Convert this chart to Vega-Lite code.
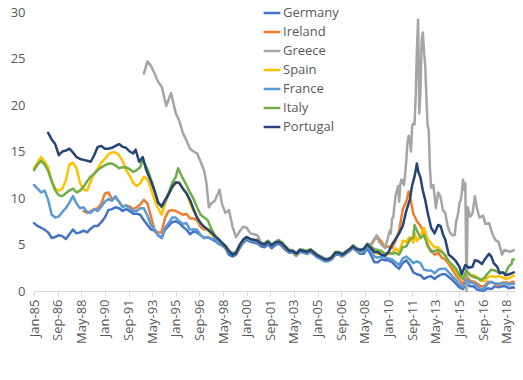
{
"$schema":"https://vega.github.io/schema/vega-lite/v6.json",
"width":481,"height":279,
"autosize":{"type":"none"},
"padding":{"left":34,"top":12,"right":8,"bottom":89},
"background":"white",
"config":{"view":{"stroke":null},"font":"Open Sans"},
"data":{"values":[
{"c":"Germany","d":"1985-01","v":7.3},{"c":"Germany","d":"1985-04","v":7.0},{"c":"Germany","d":"1985-07","v":6.8},{"c":"Germany","d":"1985-10","v":6.6},
{"c":"Germany","d":"1986-01","v":6.3},{"c":"Germany","d":"1986-04","v":5.7},{"c":"Germany","d":"1986-07","v":5.8},{"c":"Germany","d":"1986-10","v":6.0},
{"c":"Germany","d":"1987-01","v":5.9},{"c":"Germany","d":"1987-04","v":5.6},{"c":"Germany","d":"1987-07","v":6.1},{"c":"Germany","d":"1987-10","v":6.6},
{"c":"Germany","d":"1988-01","v":6.2},{"c":"Germany","d":"1988-04","v":6.3},{"c":"Germany","d":"1988-07","v":6.5},{"c":"Germany","d":"1988-10","v":6.3},
{"c":"Germany","d":"1989-01","v":6.7},{"c":"Germany","d":"1989-04","v":7.0},{"c":"Germany","d":"1989-07","v":7.0},{"c":"Germany","d":"1989-10","v":7.4},
{"c":"Germany","d":"1990-01","v":7.9},{"c":"Germany","d":"1990-04","v":8.7},{"c":"Germany","d":"1990-07","v":8.8},{"c":"Germany","d":"1990-10","v":9.0},
{"c":"Germany","d":"1991-01","v":8.9},{"c":"Germany","d":"1991-04","v":8.6},{"c":"Germany","d":"1991-07","v":8.8},{"c":"Germany","d":"1991-10","v":8.6},
{"c":"Germany","d":"1992-01","v":8.3},{"c":"Germany","d":"1992-04","v":8.3},{"c":"Germany","d":"1992-07","v":8.2},{"c":"Germany","d":"1992-10","v":7.6},
{"c":"Germany","d":"1993-01","v":7.1},{"c":"Germany","d":"1993-04","v":6.6},{"c":"Germany","d":"1993-07","v":6.5},{"c":"Germany","d":"1993-10","v":6.0},
{"c":"Germany","d":"1994-01","v":5.7},{"c":"Germany","d":"1994-04","v":6.6},{"c":"Germany","d":"1994-07","v":7.0},{"c":"Germany","d":"1994-10","v":7.4},
{"c":"Germany","d":"1995-01","v":7.5},{"c":"Germany","d":"1995-04","v":7.3},{"c":"Germany","d":"1995-07","v":6.9},{"c":"Germany","d":"1995-10","v":6.6},
{"c":"Germany","d":"1996-01","v":6.1},{"c":"Germany","d":"1996-04","v":6.4},{"c":"Germany","d":"1996-07","v":6.3},{"c":"Germany","d":"1996-10","v":6.0},
{"c":"Germany","d":"1997-01","v":5.7},{"c":"Germany","d":"1997-04","v":5.8},{"c":"Germany","d":"1997-07","v":5.6},{"c":"Germany","d":"1997-10","v":5.4},
{"c":"Germany","d":"1998-01","v":5.1},{"c":"Germany","d":"1998-04","v":4.9},{"c":"Germany","d":"1998-07","v":4.6},{"c":"Germany","d":"1998-10","v":3.9},
{"c":"Germany","d":"1999-01","v":3.7},{"c":"Germany","d":"1999-04","v":3.9},{"c":"Germany","d":"1999-07","v":4.6},{"c":"Germany","d":"1999-10","v":5.2},
{"c":"Germany","d":"2000-01","v":5.5},{"c":"Germany","d":"2000-04","v":5.3},{"c":"Germany","d":"2000-07","v":5.2},{"c":"Germany","d":"2000-10","v":5.1},
{"c":"Germany","d":"2001-01","v":4.8},{"c":"Germany","d":"2001-04","v":4.7},{"c":"Germany","d":"2001-07","v":5.0},{"c":"Germany","d":"2001-10","v":4.6},
{"c":"Germany","d":"2002-01","v":4.9},{"c":"Germany","d":"2002-04","v":5.1},{"c":"Germany","d":"2002-07","v":4.8},{"c":"Germany","d":"2002-10","v":4.4},
{"c":"Germany","d":"2003-01","v":4.1},{"c":"Germany","d":"2003-04","v":4.1},{"c":"Germany","d":"2003-07","v":3.8},{"c":"Germany","d":"2003-10","v":4.2},
{"c":"Germany","d":"2004-01","v":4.1},{"c":"Germany","d":"2004-04","v":4.0},{"c":"Germany","d":"2004-07","v":4.2},{"c":"Germany","d":"2004-10","v":3.9},
{"c":"Germany","d":"2005-01","v":3.6},{"c":"Germany","d":"2005-04","v":3.4},{"c":"Germany","d":"2005-07","v":3.2},{"c":"Germany","d":"2005-10","v":3.2},
{"c":"Germany","d":"2006-01","v":3.4},{"c":"Germany","d":"2006-04","v":3.9},{"c":"Germany","d":"2006-07","v":3.9},{"c":"Germany","d":"2006-10","v":3.7},
{"c":"Germany","d":"2007-01","v":4.0},{"c":"Germany","d":"2007-04","v":4.3},{"c":"Germany","d":"2007-07","v":4.6},{"c":"Germany","d":"2007-10","v":4.3},
{"c":"Germany","d":"2008-01","v":4.0},{"c":"Germany","d":"2008-04","v":4.0},{"c":"Germany","d":"2008-07","v":4.6},{"c":"Germany","d":"2008-10","v":3.9},
{"c":"Germany","d":"2009-01","v":3.1},{"c":"Germany","d":"2009-04","v":3.1},{"c":"Germany","d":"2009-07","v":3.4},{"c":"Germany","d":"2009-10","v":3.3},
{"c":"Germany","d":"2010-01","v":3.3},{"c":"Germany","d":"2010-04","v":3.1},{"c":"Germany","d":"2010-07","v":2.7},{"c":"Germany","d":"2010-10","v":2.4},
{"c":"Germany","d":"2011-01","v":3.0},{"c":"Germany","d":"2011-04","v":3.3},{"c":"Germany","d":"2011-07","v":2.8},{"c":"Germany","d":"2011-10","v":2.0},
{"c":"Germany","d":"2012-01","v":1.8},{"c":"Germany","d":"2012-04","v":1.7},{"c":"Germany","d":"2012-07","v":1.3},{"c":"Germany","d":"2012-10","v":1.5},
{"c":"Germany","d":"2013-01","v":1.6},{"c":"Germany","d":"2013-04","v":1.3},{"c":"Germany","d":"2013-07","v":1.6},{"c":"Germany","d":"2013-10","v":1.8},
{"c":"Germany","d":"2014-01","v":1.8},{"c":"Germany","d":"2014-04","v":1.5},{"c":"Germany","d":"2014-07","v":1.2},{"c":"Germany","d":"2014-10","v":0.8},
{"c":"Germany","d":"2015-01","v":0.4},{"c":"Germany","d":"2015-04","v":0.2},{"c":"Germany","d":"2015-07","v":0.8},{"c":"Germany","d":"2015-10","v":0.5},
{"c":"Germany","d":"2016-01","v":0.5},{"c":"Germany","d":"2016-04","v":0.15},{"c":"Germany","d":"2016-07","v":0.05},{"c":"Germany","d":"2016-10","v":0.05},
{"c":"Germany","d":"2017-01","v":0.3},{"c":"Germany","d":"2017-04","v":0.2},{"c":"Germany","d":"2017-07","v":0.5},{"c":"Germany","d":"2017-10","v":0.4},
{"c":"Germany","d":"2018-01","v":0.5},{"c":"Germany","d":"2018-04","v":0.5},{"c":"Germany","d":"2018-07","v":0.3},{"c":"Germany","d":"2018-10","v":0.4},{"c":"Germany","d":"2018-11","v":0.35},

{"c":"Ireland","d":"1988-07","v":8.6},{"c":"Ireland","d":"1988-10","v":8.4},
{"c":"Ireland","d":"1989-01","v":8.6},{"c":"Ireland","d":"1989-04","v":8.8},{"c":"Ireland","d":"1989-07","v":8.9},{"c":"Ireland","d":"1989-10","v":9.4},
{"c":"Ireland","d":"1990-01","v":10.5},{"c":"Ireland","d":"1990-04","v":10.6},{"c":"Ireland","d":"1990-07","v":9.9},{"c":"Ireland","d":"1990-10","v":10.0},
{"c":"Ireland","d":"1991-01","v":9.6},{"c":"Ireland","d":"1991-04","v":9.1},{"c":"Ireland","d":"1991-07","v":9.2},{"c":"Ireland","d":"1991-10","v":9.1},
{"c":"Ireland","d":"1992-01","v":8.8},{"c":"Ireland","d":"1992-04","v":9.0},{"c":"Ireland","d":"1992-07","v":9.3},{"c":"Ireland","d":"1992-10","v":9.8},
{"c":"Ireland","d":"1993-01","v":9.4},{"c":"Ireland","d":"1993-04","v":8.0},{"c":"Ireland","d":"1993-07","v":6.6},{"c":"Ireland","d":"1993-10","v":6.3},
{"c":"Ireland","d":"1994-01","v":6.3},{"c":"Ireland","d":"1994-04","v":7.9},{"c":"Ireland","d":"1994-07","v":8.6},{"c":"Ireland","d":"1994-10","v":8.7},
{"c":"Ireland","d":"1995-01","v":8.6},{"c":"Ireland","d":"1995-04","v":8.4},{"c":"Ireland","d":"1995-07","v":8.2},{"c":"Ireland","d":"1995-10","v":8.3},
{"c":"Ireland","d":"1996-01","v":7.8},{"c":"Ireland","d":"1996-04","v":7.8},{"c":"Ireland","d":"1996-07","v":7.6},{"c":"Ireland","d":"1996-10","v":6.9},
{"c":"Ireland","d":"1997-01","v":6.6},{"c":"Ireland","d":"1997-04","v":6.7},{"c":"Ireland","d":"1997-07","v":6.3},{"c":"Ireland","d":"1997-10","v":6.0},
{"c":"Ireland","d":"1998-01","v":5.4},{"c":"Ireland","d":"1998-04","v":5.1},{"c":"Ireland","d":"1998-07","v":4.9},{"c":"Ireland","d":"1998-10","v":4.3},
{"c":"Ireland","d":"1999-01","v":4.0},{"c":"Ireland","d":"1999-04","v":4.2},{"c":"Ireland","d":"1999-07","v":5.0},{"c":"Ireland","d":"1999-10","v":5.5},
{"c":"Ireland","d":"2000-01","v":5.8},{"c":"Ireland","d":"2000-04","v":5.5},{"c":"Ireland","d":"2000-07","v":5.5},{"c":"Ireland","d":"2000-10","v":5.4},
{"c":"Ireland","d":"2001-01","v":5.1},{"c":"Ireland","d":"2001-04","v":5.0},{"c":"Ireland","d":"2001-07","v":5.3},{"c":"Ireland","d":"2001-10","v":4.9},
{"c":"Ireland","d":"2002-01","v":5.1},{"c":"Ireland","d":"2002-04","v":5.3},{"c":"Ireland","d":"2002-07","v":5.1},{"c":"Ireland","d":"2002-10","v":4.6},
{"c":"Ireland","d":"2003-01","v":4.3},{"c":"Ireland","d":"2003-04","v":4.2},{"c":"Ireland","d":"2003-07","v":4.1},{"c":"Ireland","d":"2003-10","v":4.3},
{"c":"Ireland","d":"2004-01","v":4.2},{"c":"Ireland","d":"2004-04","v":4.1},{"c":"Ireland","d":"2004-07","v":4.3},{"c":"Ireland","d":"2004-10","v":4.0},
{"c":"Ireland","d":"2005-01","v":3.7},{"c":"Ireland","d":"2005-04","v":3.5},{"c":"Ireland","d":"2005-07","v":3.3},{"c":"Ireland","d":"2005-10","v":3.3},
{"c":"Ireland","d":"2006-01","v":3.5},{"c":"Ireland","d":"2006-04","v":4.0},{"c":"Ireland","d":"2006-07","v":4.0},{"c":"Ireland","d":"2006-10","v":3.8},
{"c":"Ireland","d":"2007-01","v":4.1},{"c":"Ireland","d":"2007-04","v":4.3},{"c":"Ireland","d":"2007-07","v":4.7},{"c":"Ireland","d":"2007-10","v":4.4},
{"c":"Ireland","d":"2008-01","v":4.3},{"c":"Ireland","d":"2008-04","v":4.5},{"c":"Ireland","d":"2008-07","v":5.0},{"c":"Ireland","d":"2008-10","v":4.9},
{"c":"Ireland","d":"2009-01","v":5.5},{"c":"Ireland","d":"2009-04","v":5.8},{"c":"Ireland","d":"2009-07","v":5.3},{"c":"Ireland","d":"2009-10","v":4.7},
{"c":"Ireland","d":"2010-01","v":4.8},{"c":"Ireland","d":"2010-04","v":4.6},{"c":"Ireland","d":"2010-07","v":5.4},{"c":"Ireland","d":"2010-10","v":6.5},
{"c":"Ireland","d":"2011-01","v":8.8},{"c":"Ireland","d":"2011-04","v":9.6},{"c":"Ireland","d":"2011-06","v":10.7},{"c":"Ireland","d":"2011-07","v":10.3},{"c":"Ireland","d":"2011-10","v":8.3},
{"c":"Ireland","d":"2012-01","v":7.5},{"c":"Ireland","d":"2012-04","v":7.0},{"c":"Ireland","d":"2012-07","v":6.3},{"c":"Ireland","d":"2012-10","v":4.8},
{"c":"Ireland","d":"2013-01","v":4.4},{"c":"Ireland","d":"2013-04","v":3.9},{"c":"Ireland","d":"2013-07","v":4.1},{"c":"Ireland","d":"2013-10","v":3.6},
{"c":"Ireland","d":"2014-01","v":3.4},{"c":"Ireland","d":"2014-04","v":2.9},{"c":"Ireland","d":"2014-07","v":2.3},{"c":"Ireland","d":"2014-10","v":1.7},
{"c":"Ireland","d":"2015-01","v":1.2},{"c":"Ireland","d":"2015-04","v":0.7},{"c":"Ireland","d":"2015-07","v":1.6},{"c":"Ireland","d":"2015-10","v":1.1},
{"c":"Ireland","d":"2016-01","v":1.0},{"c":"Ireland","d":"2016-04","v":0.8},{"c":"Ireland","d":"2016-07","v":0.5},{"c":"Ireland","d":"2016-10","v":0.5},
{"c":"Ireland","d":"2017-01","v":1.0},{"c":"Ireland","d":"2017-04","v":0.9},{"c":"Ireland","d":"2017-07","v":0.8},{"c":"Ireland","d":"2017-10","v":0.6},
{"c":"Ireland","d":"2018-01","v":0.9},{"c":"Ireland","d":"2018-04","v":0.95},{"c":"Ireland","d":"2018-07","v":0.85},{"c":"Ireland","d":"2018-10","v":1.0},{"c":"Ireland","d":"2018-11","v":0.95},

{"c":"Greece","d":"1992-10","v":23.4},
{"c":"Greece","d":"1993-01","v":24.7},{"c":"Greece","d":"1993-04","v":24.2},{"c":"Greece","d":"1993-07","v":23.4},{"c":"Greece","d":"1993-10","v":22.5},
{"c":"Greece","d":"1994-01","v":22.0},{"c":"Greece","d":"1994-05","v":19.9},{"c":"Greece","d":"1994-09","v":21.3},
{"c":"Greece","d":"1995-01","v":19.1},{"c":"Greece","d":"1995-04","v":18.3},{"c":"Greece","d":"1995-07","v":17.0},{"c":"Greece","d":"1995-10","v":16.2},
{"c":"Greece","d":"1996-01","v":15.3},{"c":"Greece","d":"1996-04","v":15.0},{"c":"Greece","d":"1996-07","v":14.8},{"c":"Greece","d":"1996-10","v":13.9},
{"c":"Greece","d":"1997-01","v":12.9},{"c":"Greece","d":"1997-03","v":11.6},{"c":"Greece","d":"1997-05","v":9.0},{"c":"Greece","d":"1997-07","v":9.4},{"c":"Greece","d":"1997-10","v":9.7},
{"c":"Greece","d":"1998-02","v":10.9},{"c":"Greece","d":"1998-04","v":9.4},{"c":"Greece","d":"1998-07","v":8.4},{"c":"Greece","d":"1998-10","v":8.7},
{"c":"Greece","d":"1999-01","v":6.9},{"c":"Greece","d":"1999-04","v":5.8},{"c":"Greece","d":"1999-07","v":6.4},{"c":"Greece","d":"1999-10","v":6.9},
{"c":"Greece","d":"2000-01","v":6.8},{"c":"Greece","d":"2000-04","v":6.2},{"c":"Greece","d":"2000-07","v":6.1},{"c":"Greece","d":"2000-10","v":6.0},
{"c":"Greece","d":"2001-01","v":5.2},{"c":"Greece","d":"2001-04","v":5.1},{"c":"Greece","d":"2001-07","v":5.4},{"c":"Greece","d":"2001-10","v":5.0},
{"c":"Greece","d":"2002-01","v":5.3},{"c":"Greece","d":"2002-04","v":5.5},{"c":"Greece","d":"2002-07","v":5.2},{"c":"Greece","d":"2002-10","v":4.7},
{"c":"Greece","d":"2003-01","v":4.4},{"c":"Greece","d":"2003-04","v":4.4},{"c":"Greece","d":"2003-07","v":4.1},{"c":"Greece","d":"2003-10","v":4.5},
{"c":"Greece","d":"2004-01","v":4.4},{"c":"Greece","d":"2004-04","v":4.3},{"c":"Greece","d":"2004-07","v":4.5},{"c":"Greece","d":"2004-10","v":4.2},
{"c":"Greece","d":"2005-01","v":3.9},{"c":"Greece","d":"2005-04","v":3.7},{"c":"Greece","d":"2005-07","v":3.5},{"c":"Greece","d":"2005-10","v":3.5},
{"c":"Greece","d":"2006-01","v":3.7},{"c":"Greece","d":"2006-04","v":4.2},{"c":"Greece","d":"2006-07","v":4.2},{"c":"Greece","d":"2006-10","v":4.0},
{"c":"Greece","d":"2007-01","v":4.3},{"c":"Greece","d":"2007-04","v":4.5},{"c":"Greece","d":"2007-07","v":4.9},{"c":"Greece","d":"2007-10","v":4.6},
{"c":"Greece","d":"2008-01","v":4.4},{"c":"Greece","d":"2008-04","v":4.6},{"c":"Greece","d":"2008-07","v":5.1},{"c":"Greece","d":"2008-10","v":5.0},
{"c":"Greece","d":"2009-01","v":5.6},{"c":"Greece","d":"2009-03","v":6.0},{"c":"Greece","d":"2009-05","v":5.3},{"c":"Greece","d":"2009-07","v":5.0},{"c":"Greece","d":"2009-10","v":4.6},{"c":"Greece","d":"2009-12","v":5.5},
{"c":"Greece","d":"2010-01","v":6.0},{"c":"Greece","d":"2010-02","v":6.5},{"c":"Greece","d":"2010-03","v":6.2},{"c":"Greece","d":"2010-04","v":7.8},{"c":"Greece","d":"2010-05","v":7.9},{"c":"Greece","d":"2010-06","v":9.1},
{"c":"Greece","d":"2010-07","v":10.3},{"c":"Greece","d":"2010-08","v":10.7},{"c":"Greece","d":"2010-09","v":11.3},{"c":"Greece","d":"2010-10","v":9.6},{"c":"Greece","d":"2010-11","v":11.5},{"c":"Greece","d":"2010-12","v":12.0},
{"c":"Greece","d":"2011-01","v":11.7},{"c":"Greece","d":"2011-02","v":11.4},{"c":"Greece","d":"2011-03","v":12.4},{"c":"Greece","d":"2011-04","v":13.9},{"c":"Greece","d":"2011-05","v":15.9},{"c":"Greece","d":"2011-06","v":16.7},
{"c":"Greece","d":"2011-07","v":16.2},{"c":"Greece","d":"2011-08","v":15.0},{"c":"Greece","d":"2011-09","v":17.8},{"c":"Greece","d":"2011-10","v":18.0},{"c":"Greece","d":"2011-11","v":17.9},{"c":"Greece","d":"2011-12","v":21.1},
{"c":"Greece","d":"2012-01","v":25.9},{"c":"Greece","d":"2012-02","v":29.2},{"c":"Greece","d":"2012-03","v":19.1},{"c":"Greece","d":"2012-04","v":21.5},{"c":"Greece","d":"2012-05","v":26.9},{"c":"Greece","d":"2012-06","v":27.8},
{"c":"Greece","d":"2012-07","v":25.8},{"c":"Greece","d":"2012-08","v":24.3},{"c":"Greece","d":"2012-09","v":20.9},{"c":"Greece","d":"2012-10","v":17.9},{"c":"Greece","d":"2012-11","v":17.2},{"c":"Greece","d":"2012-12","v":13.3},
{"c":"Greece","d":"2013-01","v":11.1},{"c":"Greece","d":"2013-03","v":11.4},{"c":"Greece","d":"2013-05","v":8.9},{"c":"Greece","d":"2013-07","v":10.6},{"c":"Greece","d":"2013-09","v":10.1},{"c":"Greece","d":"2013-11","v":8.7},
{"c":"Greece","d":"2014-01","v":8.4},{"c":"Greece","d":"2014-03","v":7.0},{"c":"Greece","d":"2014-05","v":6.3},{"c":"Greece","d":"2014-07","v":6.0},{"c":"Greece","d":"2014-09","v":6.0},{"c":"Greece","d":"2014-10","v":7.3},{"c":"Greece","d":"2014-12","v":8.4},
{"c":"Greece","d":"2015-01","v":9.5},{"c":"Greece","d":"2015-02","v":9.7},{"c":"Greece","d":"2015-03","v":10.5},{"c":"Greece","d":"2015-04","v":12.0},{"c":"Greece","d":"2015-05","v":10.9},{"c":"Greece","d":"2015-06","v":11.6},
{"c":"Greece","d":"2015-07","v":0},{"c":"Greece","d":"2015-08","v":9.0},{"c":"Greece","d":"2015-10","v":8.0},{"c":"Greece","d":"2015-12","v":8.3},
{"c":"Greece","d":"2016-02","v":10.2},{"c":"Greece","d":"2016-04","v":8.8},{"c":"Greece","d":"2016-06","v":7.9},{"c":"Greece","d":"2016-09","v":8.1},{"c":"Greece","d":"2016-11","v":7.2},
{"c":"Greece","d":"2017-02","v":7.3},{"c":"Greece","d":"2017-04","v":6.5},{"c":"Greece","d":"2017-06","v":5.8},{"c":"Greece","d":"2017-08","v":5.4},{"c":"Greece","d":"2017-10","v":5.3},{"c":"Greece","d":"2017-12","v":4.4},
{"c":"Greece","d":"2018-01","v":3.9},{"c":"Greece","d":"2018-03","v":4.4},{"c":"Greece","d":"2018-06","v":4.3},{"c":"Greece","d":"2018-08","v":4.2},{"c":"Greece","d":"2018-11","v":4.4},

{"c":"Spain","d":"1985-01","v":13.2},{"c":"Spain","d":"1985-04","v":13.8},{"c":"Spain","d":"1985-07","v":14.4},{"c":"Spain","d":"1985-10","v":13.9},
{"c":"Spain","d":"1986-01","v":13.3},{"c":"Spain","d":"1986-04","v":11.8},{"c":"Spain","d":"1986-07","v":11.0},{"c":"Spain","d":"1986-10","v":10.8},
{"c":"Spain","d":"1987-01","v":11.0},{"c":"Spain","d":"1987-04","v":11.9},{"c":"Spain","d":"1987-07","v":13.6},{"c":"Spain","d":"1987-10","v":13.8},
{"c":"Spain","d":"1988-01","v":13.2},{"c":"Spain","d":"1988-04","v":11.6},{"c":"Spain","d":"1988-07","v":10.9},{"c":"Spain","d":"1988-10","v":10.8},
{"c":"Spain","d":"1989-01","v":11.8},{"c":"Spain","d":"1989-04","v":12.6},{"c":"Spain","d":"1989-07","v":13.2},{"c":"Spain","d":"1989-10","v":13.8},
{"c":"Spain","d":"1990-01","v":14.2},{"c":"Spain","d":"1990-04","v":14.7},{"c":"Spain","d":"1990-07","v":14.9},{"c":"Spain","d":"1990-10","v":14.9},
{"c":"Spain","d":"1991-01","v":14.6},{"c":"Spain","d":"1991-04","v":14.0},{"c":"Spain","d":"1991-07","v":13.0},{"c":"Spain","d":"1991-10","v":12.4},
{"c":"Spain","d":"1992-01","v":11.6},{"c":"Spain","d":"1992-04","v":11.3},{"c":"Spain","d":"1992-07","v":11.6},{"c":"Spain","d":"1992-10","v":12.3},
{"c":"Spain","d":"1993-01","v":12.0},{"c":"Spain","d":"1993-04","v":11.0},{"c":"Spain","d":"1993-07","v":9.8},{"c":"Spain","d":"1993-10","v":8.9},
{"c":"Spain","d":"1994-01","v":8.2},{"c":"Spain","d":"1994-04","v":9.4},{"c":"Spain","d":"1994-07","v":10.4},{"c":"Spain","d":"1994-10","v":11.1},
{"c":"Spain","d":"1995-01","v":11.6},{"c":"Spain","d":"1995-04","v":11.7},{"c":"Spain","d":"1995-07","v":11.0},{"c":"Spain","d":"1995-10","v":10.6},
{"c":"Spain","d":"1996-01","v":9.5},{"c":"Spain","d":"1996-04","v":8.6},{"c":"Spain","d":"1996-07","v":7.9},{"c":"Spain","d":"1996-10","v":7.2},
{"c":"Spain","d":"1997-01","v":6.8},{"c":"Spain","d":"1997-04","v":6.6},{"c":"Spain","d":"1997-07","v":6.1},{"c":"Spain","d":"1997-10","v":5.7},
{"c":"Spain","d":"1998-01","v":5.4},{"c":"Spain","d":"1998-04","v":5.0},{"c":"Spain","d":"1998-07","v":4.7},{"c":"Spain","d":"1998-10","v":4.3},
{"c":"Spain","d":"1999-01","v":4.0},{"c":"Spain","d":"1999-04","v":4.1},{"c":"Spain","d":"1999-07","v":4.8},{"c":"Spain","d":"1999-10","v":5.4},
{"c":"Spain","d":"2000-01","v":5.7},{"c":"Spain","d":"2000-04","v":5.5},{"c":"Spain","d":"2000-07","v":5.4},{"c":"Spain","d":"2000-10","v":5.3},
{"c":"Spain","d":"2001-01","v":5.0},{"c":"Spain","d":"2001-04","v":5.0},{"c":"Spain","d":"2001-07","v":5.3},{"c":"Spain","d":"2001-10","v":4.9},
{"c":"Spain","d":"2002-01","v":5.1},{"c":"Spain","d":"2002-04","v":5.3},{"c":"Spain","d":"2002-07","v":5.0},{"c":"Spain","d":"2002-10","v":4.6},
{"c":"Spain","d":"2003-01","v":4.2},{"c":"Spain","d":"2003-04","v":4.2},{"c":"Spain","d":"2003-07","v":3.9},{"c":"Spain","d":"2003-10","v":4.3},
{"c":"Spain","d":"2004-01","v":4.2},{"c":"Spain","d":"2004-04","v":4.1},{"c":"Spain","d":"2004-07","v":4.3},{"c":"Spain","d":"2004-10","v":4.0},
{"c":"Spain","d":"2005-01","v":3.7},{"c":"Spain","d":"2005-04","v":3.5},{"c":"Spain","d":"2005-07","v":3.3},{"c":"Spain","d":"2005-10","v":3.3},
{"c":"Spain","d":"2006-01","v":3.5},{"c":"Spain","d":"2006-04","v":4.0},{"c":"Spain","d":"2006-07","v":4.0},{"c":"Spain","d":"2006-10","v":3.8},
{"c":"Spain","d":"2007-01","v":4.1},{"c":"Spain","d":"2007-04","v":4.4},{"c":"Spain","d":"2007-07","v":4.7},{"c":"Spain","d":"2007-10","v":4.4},
{"c":"Spain","d":"2008-01","v":4.2},{"c":"Spain","d":"2008-04","v":4.3},{"c":"Spain","d":"2008-07","v":4.9},{"c":"Spain","d":"2008-10","v":4.4},
{"c":"Spain","d":"2009-01","v":4.1},{"c":"Spain","d":"2009-04","v":4.0},{"c":"Spain","d":"2009-07","v":4.0},{"c":"Spain","d":"2009-10","v":3.8},
{"c":"Spain","d":"2010-01","v":4.0},{"c":"Spain","d":"2010-04","v":4.0},{"c":"Spain","d":"2010-07","v":4.6},{"c":"Spain","d":"2010-10","v":4.2},
{"c":"Spain","d":"2011-01","v":5.4},{"c":"Spain","d":"2011-04","v":5.3},{"c":"Spain","d":"2011-07","v":5.8},{"c":"Spain","d":"2011-10","v":5.2},{"c":"Spain","d":"2011-11","v":6.2},
{"c":"Spain","d":"2012-01","v":5.4},{"c":"Spain","d":"2012-04","v":5.8},{"c":"Spain","d":"2012-06","v":6.6},{"c":"Spain","d":"2012-07","v":6.8},{"c":"Spain","d":"2012-10","v":5.6},
{"c":"Spain","d":"2013-01","v":5.1},{"c":"Spain","d":"2013-04","v":4.7},{"c":"Spain","d":"2013-07","v":4.7},{"c":"Spain","d":"2013-10","v":4.3},
{"c":"Spain","d":"2014-01","v":3.8},{"c":"Spain","d":"2014-04","v":3.1},{"c":"Spain","d":"2014-07","v":2.7},{"c":"Spain","d":"2014-10","v":2.1},
{"c":"Spain","d":"2015-01","v":1.5},{"c":"Spain","d":"2015-04","v":1.3},{"c":"Spain","d":"2015-07","v":2.1},{"c":"Spain","d":"2015-10","v":1.7},
{"c":"Spain","d":"2016-01","v":1.7},{"c":"Spain","d":"2016-04","v":1.5},{"c":"Spain","d":"2016-07","v":1.1},{"c":"Spain","d":"2016-10","v":1.1},
{"c":"Spain","d":"2017-01","v":1.5},{"c":"Spain","d":"2017-04","v":1.6},{"c":"Spain","d":"2017-07","v":1.5},{"c":"Spain","d":"2017-10","v":1.6},
{"c":"Spain","d":"2018-01","v":1.5},{"c":"Spain","d":"2018-04","v":1.3},{"c":"Spain","d":"2018-07","v":1.4},{"c":"Spain","d":"2018-10","v":1.6},{"c":"Spain","d":"2018-11","v":1.6},

{"c":"France","d":"1985-01","v":11.4},{"c":"France","d":"1985-04","v":11.0},{"c":"France","d":"1985-07","v":10.6},{"c":"France","d":"1985-10","v":10.8},
{"c":"France","d":"1986-01","v":9.8},{"c":"France","d":"1986-04","v":8.2},{"c":"France","d":"1986-07","v":7.9},{"c":"France","d":"1986-10","v":8.0},
{"c":"France","d":"1987-01","v":8.5},{"c":"France","d":"1987-04","v":8.9},{"c":"France","d":"1987-07","v":9.5},{"c":"France","d":"1987-10","v":10.2},
{"c":"France","d":"1988-01","v":9.4},{"c":"France","d":"1988-04","v":8.9},{"c":"France","d":"1988-07","v":9.0},{"c":"France","d":"1988-10","v":8.5},
{"c":"France","d":"1989-01","v":8.4},{"c":"France","d":"1989-04","v":8.8},{"c":"France","d":"1989-07","v":8.6},{"c":"France","d":"1989-10","v":9.1},
{"c":"France","d":"1990-01","v":9.6},{"c":"France","d":"1990-04","v":9.9},{"c":"France","d":"1990-07","v":9.7},{"c":"France","d":"1990-10","v":10.2},
{"c":"France","d":"1991-01","v":9.6},{"c":"France","d":"1991-04","v":9.0},{"c":"France","d":"1991-07","v":9.2},{"c":"France","d":"1991-10","v":8.9},
{"c":"France","d":"1992-01","v":8.6},{"c":"France","d":"1992-04","v":8.6},{"c":"France","d":"1992-07","v":8.9},{"c":"France","d":"1992-10","v":8.9},
{"c":"France","d":"1993-01","v":8.1},{"c":"France","d":"1993-04","v":7.1},{"c":"France","d":"1993-07","v":6.6},{"c":"France","d":"1993-10","v":6.0},
{"c":"France","d":"1994-01","v":5.7},{"c":"France","d":"1994-04","v":6.8},{"c":"France","d":"1994-07","v":7.3},{"c":"France","d":"1994-10","v":7.9},
{"c":"France","d":"1995-01","v":7.9},{"c":"France","d":"1995-04","v":7.5},{"c":"France","d":"1995-07","v":7.2},{"c":"France","d":"1995-10","v":7.3},
{"c":"France","d":"1996-01","v":6.6},{"c":"France","d":"1996-04","v":6.6},{"c":"France","d":"1996-07","v":6.6},{"c":"France","d":"1996-10","v":6.0},
{"c":"France","d":"1997-01","v":5.7},{"c":"France","d":"1997-04","v":5.8},{"c":"France","d":"1997-07","v":5.6},{"c":"France","d":"1997-10","v":5.6},
{"c":"France","d":"1998-01","v":5.2},{"c":"France","d":"1998-04","v":5.0},{"c":"France","d":"1998-07","v":4.8},{"c":"France","d":"1998-10","v":4.2},
{"c":"France","d":"1999-01","v":3.9},{"c":"France","d":"1999-04","v":4.1},{"c":"France","d":"1999-07","v":4.8},{"c":"France","d":"1999-10","v":5.4},
{"c":"France","d":"2000-01","v":5.7},{"c":"France","d":"2000-04","v":5.4},{"c":"France","d":"2000-07","v":5.4},{"c":"France","d":"2000-10","v":5.3},
{"c":"France","d":"2001-01","v":5.0},{"c":"France","d":"2001-04","v":5.0},{"c":"France","d":"2001-07","v":5.2},{"c":"France","d":"2001-10","v":4.8},
{"c":"France","d":"2002-01","v":5.0},{"c":"France","d":"2002-04","v":5.3},{"c":"France","d":"2002-07","v":5.0},{"c":"France","d":"2002-10","v":4.6},
{"c":"France","d":"2003-01","v":4.2},{"c":"France","d":"2003-04","v":4.2},{"c":"France","d":"2003-07","v":4.0},{"c":"France","d":"2003-10","v":4.3},
{"c":"France","d":"2004-01","v":4.2},{"c":"France","d":"2004-04","v":4.1},{"c":"France","d":"2004-07","v":4.3},{"c":"France","d":"2004-10","v":4.0},
{"c":"France","d":"2005-01","v":3.6},{"c":"France","d":"2005-04","v":3.5},{"c":"France","d":"2005-07","v":3.2},{"c":"France","d":"2005-10","v":3.3},
{"c":"France","d":"2006-01","v":3.5},{"c":"France","d":"2006-04","v":4.0},{"c":"France","d":"2006-07","v":4.0},{"c":"France","d":"2006-10","v":3.8},
{"c":"France","d":"2007-01","v":4.1},{"c":"France","d":"2007-04","v":4.3},{"c":"France","d":"2007-07","v":4.7},{"c":"France","d":"2007-10","v":4.4},
{"c":"France","d":"2008-01","v":4.1},{"c":"France","d":"2008-04","v":4.2},{"c":"France","d":"2008-07","v":4.8},{"c":"France","d":"2008-10","v":4.3},
{"c":"France","d":"2009-01","v":3.7},{"c":"France","d":"2009-04","v":3.6},{"c":"France","d":"2009-07","v":3.7},{"c":"France","d":"2009-10","v":3.6},
{"c":"France","d":"2010-01","v":3.5},{"c":"France","d":"2010-04","v":3.4},{"c":"France","d":"2010-07","v":3.1},{"c":"France","d":"2010-10","v":2.8},
{"c":"France","d":"2011-01","v":3.5},{"c":"France","d":"2011-04","v":3.7},{"c":"France","d":"2011-07","v":3.4},{"c":"France","d":"2011-10","v":3.0},
{"c":"France","d":"2012-01","v":3.2},{"c":"France","d":"2012-04","v":3.0},{"c":"France","d":"2012-07","v":2.3},{"c":"France","d":"2012-10","v":2.2},
{"c":"France","d":"2013-01","v":2.2},{"c":"France","d":"2013-04","v":1.9},{"c":"France","d":"2013-07","v":2.3},{"c":"France","d":"2013-10","v":2.4},
{"c":"France","d":"2014-01","v":2.4},{"c":"France","d":"2014-04","v":2.0},{"c":"France","d":"2014-07","v":1.6},{"c":"France","d":"2014-10","v":1.2},
{"c":"France","d":"2015-01","v":0.7},{"c":"France","d":"2015-04","v":0.4},{"c":"France","d":"2015-07","v":1.2},{"c":"France","d":"2015-10","v":0.9},
{"c":"France","d":"2016-01","v":0.9},{"c":"France","d":"2016-04","v":0.5},{"c":"France","d":"2016-07","v":0.2},{"c":"France","d":"2016-10","v":0.3},
{"c":"France","d":"2017-01","v":0.8},{"c":"France","d":"2017-04","v":1.0},{"c":"France","d":"2017-07","v":0.8},{"c":"France","d":"2017-10","v":0.8},
{"c":"France","d":"2018-01","v":0.8},{"c":"France","d":"2018-04","v":0.8},{"c":"France","d":"2018-07","v":0.7},{"c":"France","d":"2018-10","v":0.8},{"c":"France","d":"2018-11","v":0.75},

{"c":"Italy","d":"1985-01","v":13.0},{"c":"Italy","d":"1985-04","v":13.6},{"c":"Italy","d":"1985-07","v":14.0},{"c":"Italy","d":"1985-10","v":13.6},
{"c":"Italy","d":"1986-01","v":12.9},{"c":"Italy","d":"1986-04","v":11.8},{"c":"Italy","d":"1986-07","v":10.8},{"c":"Italy","d":"1986-10","v":10.3},
{"c":"Italy","d":"1987-01","v":10.2},{"c":"Italy","d":"1987-04","v":10.5},{"c":"Italy","d":"1987-07","v":10.8},{"c":"Italy","d":"1987-10","v":11.0},
{"c":"Italy","d":"1988-01","v":10.6},{"c":"Italy","d":"1988-04","v":10.8},{"c":"Italy","d":"1988-07","v":11.2},{"c":"Italy","d":"1988-10","v":11.8},
{"c":"Italy","d":"1989-01","v":12.3},{"c":"Italy","d":"1989-04","v":12.6},{"c":"Italy","d":"1989-07","v":13.0},{"c":"Italy","d":"1989-10","v":13.3},
{"c":"Italy","d":"1990-01","v":13.5},{"c":"Italy","d":"1990-04","v":13.7},{"c":"Italy","d":"1990-07","v":13.7},{"c":"Italy","d":"1990-10","v":13.5},
{"c":"Italy","d":"1991-01","v":13.2},{"c":"Italy","d":"1991-04","v":13.3},{"c":"Italy","d":"1991-07","v":13.3},{"c":"Italy","d":"1991-10","v":13.1},
{"c":"Italy","d":"1992-01","v":12.8},{"c":"Italy","d":"1992-04","v":13.0},{"c":"Italy","d":"1992-07","v":13.3},{"c":"Italy","d":"1992-09","v":14.3},{"c":"Italy","d":"1992-10","v":13.9},
{"c":"Italy","d":"1993-01","v":13.1},{"c":"Italy","d":"1993-04","v":12.0},{"c":"Italy","d":"1993-07","v":10.8},{"c":"Italy","d":"1993-10","v":9.6},
{"c":"Italy","d":"1994-01","v":9.0},{"c":"Italy","d":"1994-04","v":9.6},{"c":"Italy","d":"1994-07","v":10.6},{"c":"Italy","d":"1994-10","v":11.6},
{"c":"Italy","d":"1995-01","v":12.3},{"c":"Italy","d":"1995-03","v":13.2},{"c":"Italy","d":"1995-04","v":12.9},{"c":"Italy","d":"1995-07","v":12.1},{"c":"Italy","d":"1995-10","v":11.4},
{"c":"Italy","d":"1996-01","v":10.6},{"c":"Italy","d":"1996-04","v":9.9},{"c":"Italy","d":"1996-07","v":9.0},{"c":"Italy","d":"1996-10","v":8.2},
{"c":"Italy","d":"1997-01","v":7.9},{"c":"Italy","d":"1997-04","v":7.6},{"c":"Italy","d":"1997-07","v":6.7},{"c":"Italy","d":"1997-10","v":6.0},
{"c":"Italy","d":"1998-01","v":5.5},{"c":"Italy","d":"1998-04","v":5.2},{"c":"Italy","d":"1998-07","v":4.9},{"c":"Italy","d":"1998-10","v":4.3},
{"c":"Italy","d":"1999-01","v":4.1},{"c":"Italy","d":"1999-04","v":4.1},{"c":"Italy","d":"1999-07","v":4.9},{"c":"Italy","d":"1999-10","v":5.5},
{"c":"Italy","d":"2000-01","v":5.8},{"c":"Italy","d":"2000-04","v":5.6},{"c":"Italy","d":"2000-07","v":5.5},{"c":"Italy","d":"2000-10","v":5.5},
{"c":"Italy","d":"2001-01","v":5.2},{"c":"Italy","d":"2001-04","v":5.1},{"c":"Italy","d":"2001-07","v":5.4},{"c":"Italy","d":"2001-10","v":5.0},
{"c":"Italy","d":"2002-01","v":5.2},{"c":"Italy","d":"2002-04","v":5.4},{"c":"Italy","d":"2002-07","v":5.2},{"c":"Italy","d":"2002-10","v":4.8},
{"c":"Italy","d":"2003-01","v":4.4},{"c":"Italy","d":"2003-04","v":4.3},{"c":"Italy","d":"2003-07","v":4.1},{"c":"Italy","d":"2003-10","v":4.4},
{"c":"Italy","d":"2004-01","v":4.4},{"c":"Italy","d":"2004-04","v":4.3},{"c":"Italy","d":"2004-07","v":4.5},{"c":"Italy","d":"2004-10","v":4.2},
{"c":"Italy","d":"2005-01","v":3.9},{"c":"Italy","d":"2005-04","v":3.7},{"c":"Italy","d":"2005-07","v":3.4},{"c":"Italy","d":"2005-10","v":3.4},
{"c":"Italy","d":"2006-01","v":3.7},{"c":"Italy","d":"2006-04","v":4.2},{"c":"Italy","d":"2006-07","v":4.2},{"c":"Italy","d":"2006-10","v":4.0},
{"c":"Italy","d":"2007-01","v":4.2},{"c":"Italy","d":"2007-04","v":4.5},{"c":"Italy","d":"2007-07","v":4.9},{"c":"Italy","d":"2007-10","v":4.6},
{"c":"Italy","d":"2008-01","v":4.4},{"c":"Italy","d":"2008-04","v":4.5},{"c":"Italy","d":"2008-07","v":5.0},{"c":"Italy","d":"2008-10","v":4.8},
{"c":"Italy","d":"2009-01","v":4.5},{"c":"Italy","d":"2009-04","v":4.4},{"c":"Italy","d":"2009-07","v":4.3},{"c":"Italy","d":"2009-10","v":4.0},
{"c":"Italy","d":"2010-01","v":4.1},{"c":"Italy","d":"2010-04","v":4.0},{"c":"Italy","d":"2010-07","v":4.1},{"c":"Italy","d":"2010-10","v":3.9},
{"c":"Italy","d":"2011-01","v":4.7},{"c":"Italy","d":"2011-04","v":4.8},{"c":"Italy","d":"2011-07","v":5.5},{"c":"Italy","d":"2011-10","v":5.8},{"c":"Italy","d":"2011-11","v":7.1},
{"c":"Italy","d":"2012-01","v":6.5},{"c":"Italy","d":"2012-04","v":5.7},{"c":"Italy","d":"2012-07","v":6.0},{"c":"Italy","d":"2012-10","v":5.0},
{"c":"Italy","d":"2013-01","v":4.2},{"c":"Italy","d":"2013-04","v":4.3},{"c":"Italy","d":"2013-07","v":4.4},{"c":"Italy","d":"2013-10","v":4.2},
{"c":"Italy","d":"2014-01","v":3.8},{"c":"Italy","d":"2014-04","v":3.2},{"c":"Italy","d":"2014-07","v":2.8},{"c":"Italy","d":"2014-10","v":2.4},
{"c":"Italy","d":"2015-01","v":1.7},{"c":"Italy","d":"2015-04","v":1.3},{"c":"Italy","d":"2015-07","v":2.2},{"c":"Italy","d":"2015-10","v":1.7},
{"c":"Italy","d":"2016-01","v":1.5},{"c":"Italy","d":"2016-04","v":1.4},{"c":"Italy","d":"2016-07","v":1.2},{"c":"Italy","d":"2016-10","v":1.4},
{"c":"Italy","d":"2017-01","v":1.9},{"c":"Italy","d":"2017-04","v":2.3},{"c":"Italy","d":"2017-07","v":2.2},{"c":"Italy","d":"2017-10","v":2.0},
{"c":"Italy","d":"2018-01","v":2.0},{"c":"Italy","d":"2018-04","v":1.8},{"c":"Italy","d":"2018-05","v":2.2},{"c":"Italy","d":"2018-07","v":2.7},{"c":"Italy","d":"2018-09","v":2.9},{"c":"Italy","d":"2018-10","v":3.4},{"c":"Italy","d":"2018-11","v":3.4},

{"c":"Portugal","d":"1986-01","v":17.0},{"c":"Portugal","d":"1986-04","v":16.3},{"c":"Portugal","d":"1986-07","v":15.8},{"c":"Portugal","d":"1986-10","v":14.6},
{"c":"Portugal","d":"1987-01","v":15.0},{"c":"Portugal","d":"1987-04","v":15.1},{"c":"Portugal","d":"1987-07","v":15.3},{"c":"Portugal","d":"1987-10","v":14.9},
{"c":"Portugal","d":"1988-01","v":14.4},{"c":"Portugal","d":"1988-04","v":14.2},{"c":"Portugal","d":"1988-07","v":14.1},{"c":"Portugal","d":"1988-10","v":14.0},
{"c":"Portugal","d":"1989-01","v":13.9},{"c":"Portugal","d":"1989-04","v":14.6},{"c":"Portugal","d":"1989-07","v":15.5},{"c":"Portugal","d":"1989-10","v":15.6},
{"c":"Portugal","d":"1990-01","v":15.3},{"c":"Portugal","d":"1990-04","v":15.3},{"c":"Portugal","d":"1990-07","v":15.4},{"c":"Portugal","d":"1990-10","v":15.6},
{"c":"Portugal","d":"1991-01","v":15.8},{"c":"Portugal","d":"1991-04","v":15.5},{"c":"Portugal","d":"1991-07","v":15.4},{"c":"Portugal","d":"1991-10","v":15.0},
{"c":"Portugal","d":"1992-01","v":14.8},{"c":"Portugal","d":"1992-03","v":15.2},{"c":"Portugal","d":"1992-06","v":13.9},{"c":"Portugal","d":"1992-09","v":14.4},{"c":"Portugal","d":"1992-12","v":13.0},
{"c":"Portugal","d":"1993-04","v":11.8},{"c":"Portugal","d":"1993-07","v":10.8},{"c":"Portugal","d":"1993-10","v":9.5},
{"c":"Portugal","d":"1994-01","v":9.1},{"c":"Portugal","d":"1994-04","v":9.8},{"c":"Portugal","d":"1994-07","v":10.4},{"c":"Portugal","d":"1994-10","v":11.2},
{"c":"Portugal","d":"1995-01","v":11.7},{"c":"Portugal","d":"1995-04","v":11.6},{"c":"Portugal","d":"1995-07","v":11.0},{"c":"Portugal","d":"1995-10","v":10.5},
{"c":"Portugal","d":"1996-01","v":9.8},{"c":"Portugal","d":"1996-04","v":8.8},{"c":"Portugal","d":"1996-07","v":7.9},{"c":"Portugal","d":"1996-10","v":7.3},
{"c":"Portugal","d":"1997-01","v":6.9},{"c":"Portugal","d":"1997-04","v":6.6},{"c":"Portugal","d":"1997-07","v":6.3},{"c":"Portugal","d":"1997-10","v":5.9},
{"c":"Portugal","d":"1998-01","v":5.6},{"c":"Portugal","d":"1998-04","v":5.2},{"c":"Portugal","d":"1998-07","v":4.8},{"c":"Portugal","d":"1998-10","v":4.3},
{"c":"Portugal","d":"1999-01","v":3.9},{"c":"Portugal","d":"1999-04","v":4.1},{"c":"Portugal","d":"1999-07","v":4.9},{"c":"Portugal","d":"1999-10","v":5.5},
{"c":"Portugal","d":"2000-01","v":5.8},{"c":"Portugal","d":"2000-04","v":5.6},{"c":"Portugal","d":"2000-07","v":5.5},{"c":"Portugal","d":"2000-10","v":5.4},
{"c":"Portugal","d":"2001-01","v":5.1},{"c":"Portugal","d":"2001-04","v":5.0},{"c":"Portugal","d":"2001-07","v":5.3},{"c":"Portugal","d":"2001-10","v":4.9},
{"c":"Portugal","d":"2002-01","v":5.2},{"c":"Portugal","d":"2002-04","v":5.3},{"c":"Portugal","d":"2002-07","v":5.1},{"c":"Portugal","d":"2002-10","v":4.7},
{"c":"Portugal","d":"2003-01","v":4.3},{"c":"Portugal","d":"2003-04","v":4.3},{"c":"Portugal","d":"2003-07","v":4.0},{"c":"Portugal","d":"2003-10","v":4.4},
{"c":"Portugal","d":"2004-01","v":4.3},{"c":"Portugal","d":"2004-04","v":4.2},{"c":"Portugal","d":"2004-07","v":4.4},{"c":"Portugal","d":"2004-10","v":4.1},
{"c":"Portugal","d":"2005-01","v":3.8},{"c":"Portugal","d":"2005-04","v":3.6},{"c":"Portugal","d":"2005-07","v":3.4},{"c":"Portugal","d":"2005-10","v":3.4},
{"c":"Portugal","d":"2006-01","v":3.6},{"c":"Portugal","d":"2006-04","v":4.1},{"c":"Portugal","d":"2006-07","v":4.1},{"c":"Portugal","d":"2006-10","v":3.9},
{"c":"Portugal","d":"2007-01","v":4.2},{"c":"Portugal","d":"2007-04","v":4.5},{"c":"Portugal","d":"2007-07","v":4.8},{"c":"Portugal","d":"2007-10","v":4.5},
{"c":"Portugal","d":"2008-01","v":4.4},{"c":"Portugal","d":"2008-04","v":4.5},{"c":"Portugal","d":"2008-07","v":5.0},{"c":"Portugal","d":"2008-10","v":4.6},
{"c":"Portugal","d":"2009-01","v":4.2},{"c":"Portugal","d":"2009-04","v":4.2},{"c":"Portugal","d":"2009-07","v":3.9},{"c":"Portugal","d":"2009-10","v":3.8},
{"c":"Portugal","d":"2010-01","v":4.2},{"c":"Portugal","d":"2010-04","v":5.0},{"c":"Portugal","d":"2010-07","v":5.6},{"c":"Portugal","d":"2010-10","v":6.2},
{"c":"Portugal","d":"2011-01","v":7.0},{"c":"Portugal","d":"2011-04","v":8.6},{"c":"Portugal","d":"2011-07","v":9.8},{"c":"Portugal","d":"2011-09","v":11.4},{"c":"Portugal","d":"2011-11","v":12.3},
{"c":"Portugal","d":"2012-01","v":13.7},{"c":"Portugal","d":"2012-02","v":12.9},{"c":"Portugal","d":"2012-04","v":12.2},{"c":"Portugal","d":"2012-06","v":10.8},{"c":"Portugal","d":"2012-08","v":9.8},{"c":"Portugal","d":"2012-10","v":8.5},
{"c":"Portugal","d":"2013-01","v":6.8},{"c":"Portugal","d":"2013-04","v":6.2},{"c":"Portugal","d":"2013-07","v":7.1},{"c":"Portugal","d":"2013-09","v":7.0},{"c":"Portugal","d":"2013-11","v":6.1},
{"c":"Portugal","d":"2014-01","v":5.5},{"c":"Portugal","d":"2014-04","v":3.9},{"c":"Portugal","d":"2014-07","v":3.6},{"c":"Portugal","d":"2014-10","v":3.2},
{"c":"Portugal","d":"2015-01","v":2.6},{"c":"Portugal","d":"2015-03","v":1.8},{"c":"Portugal","d":"2015-06","v":2.8},{"c":"Portugal","d":"2015-09","v":2.5},{"c":"Portugal","d":"2015-12","v":2.6},
{"c":"Portugal","d":"2016-02","v":3.3},{"c":"Portugal","d":"2016-05","v":3.2},{"c":"Portugal","d":"2016-08","v":2.9},{"c":"Portugal","d":"2016-11","v":3.5},
{"c":"Portugal","d":"2017-02","v":4.0},{"c":"Portugal","d":"2017-04","v":3.7},{"c":"Portugal","d":"2017-06","v":3.0},{"c":"Portugal","d":"2017-09","v":2.6},{"c":"Portugal","d":"2017-11","v":1.9},
{"c":"Portugal","d":"2018-02","v":2.0},{"c":"Portugal","d":"2018-04","v":1.7},{"c":"Portugal","d":"2018-07","v":1.8},{"c":"Portugal","d":"2018-09","v":1.9},{"c":"Portugal","d":"2018-11","v":2.0}
]},
"mark":{"type":"line","strokeWidth":2.5,"strokeJoin":"round","strokeCap":"round"},
"encoding":{
"x":{"field":"d","type":"temporal",
 "scale":{"type":"utc","domain":[{"year":1985,"month":1,"date":1,"utc":true},{"year":2018,"month":12,"date":1,"utc":true}]},
 "axis":{"title":null,"grid":false,"labelExpr":"utcFormat(datum.value, '%b-%y')","labelAngle":-90,"labelFontSize":13,"labelColor":"#595959","labelFont":"Open Sans",
  "domainColor":"#d9d9d9","tickColor":"#d9d9d9","tickSize":5,"labelPadding":3,"labelOverlap":false,"labelFlush":false,
  "values":[{"year":1985,"month":1,"date":1,"utc":true},{"year":1986,"month":9,"date":1,"utc":true},{"year":1988,"month":5,"date":1,"utc":true},{"year":1990,"month":1,"date":1,"utc":true},{"year":1991,"month":9,"date":1,"utc":true},{"year":1993,"month":5,"date":1,"utc":true},{"year":1995,"month":1,"date":1,"utc":true},{"year":1996,"month":9,"date":1,"utc":true},{"year":1998,"month":5,"date":1,"utc":true},{"year":2000,"month":1,"date":1,"utc":true},{"year":2001,"month":9,"date":1,"utc":true},{"year":2003,"month":5,"date":1,"utc":true},{"year":2005,"month":1,"date":1,"utc":true},{"year":2006,"month":9,"date":1,"utc":true},{"year":2008,"month":5,"date":1,"utc":true},{"year":2010,"month":1,"date":1,"utc":true},{"year":2011,"month":9,"date":1,"utc":true},{"year":2013,"month":5,"date":1,"utc":true},{"year":2015,"month":1,"date":1,"utc":true},{"year":2016,"month":9,"date":1,"utc":true},{"year":2018,"month":5,"date":1,"utc":true}]}},
"y":{"field":"v","type":"quantitative","scale":{"domain":[0,30],"nice":false},
 "axis":{"title":null,"values":[0,5,10,15,20,25,30],"domain":false,"ticks":false,"grid":false,"labelFontSize":13,"labelColor":"#595959","labelFont":"Open Sans","labelPadding":9}},
"color":{"field":"c","type":"nominal",
 "scale":{"domain":["Germany","Ireland","Greece","Spain","France","Italy","Portugal"],"range":["#4472C4","#ED7D31","#A5A5A5","#FFC000","#5B9BD5","#70AD47","#264478"]},
 "legend":{"title":null,"orient":"none","legendX":228,"legendY":-9,"padding":0,"symbolType":"stroke","symbolStrokeWidth":2.5,"symbolSize":280,"labelFontSize":13,"labelColor":"#595959","labelFont":"Open Sans","labelOffset":1,"rowPadding":2}}
}
}
